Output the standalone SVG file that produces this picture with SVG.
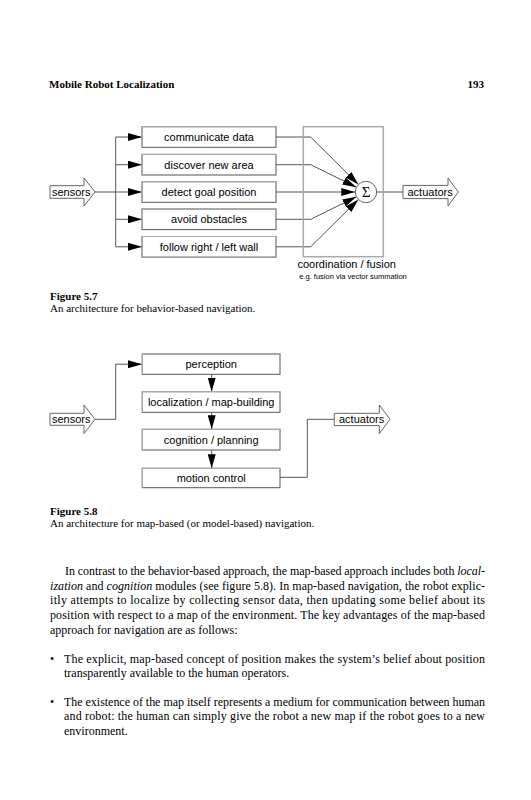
<svg xmlns="http://www.w3.org/2000/svg" width="531" height="800" viewBox="0 0 531 800">
<style>
.serif{font-family:"Liberation Serif","Times New Roman",serif;fill:#000}
.hd{font-size:11px;font-weight:bold}
.cap{font-size:11px}
.body{font-size:12px}
.it{font-style:italic}
.sans{font-family:"Liberation Sans",Arial,sans-serif;fill:#000;font-size:11px}
.box{fill:#fff;stroke:#555;stroke-width:1}
.boxhl{fill:none;stroke:#aaa;stroke-width:1.2}
.con{fill:none;stroke:#555;stroke-width:1}
.blk{fill:#fff;stroke:#666;stroke-width:1}
</style>
<defs>
<marker id="ah" markerUnits="userSpaceOnUse" markerWidth="14" markerHeight="8" refX="14" refY="4" orient="auto" viewBox="0 0 14 8">
<path d="M0,0 L14,4 L0,8 z" fill="#000"/>
</marker>
</defs>
<rect width="531" height="800" fill="#fff"/>

<g id="header">
<text class="serif hd" x="49" y="88">Mobile Robot Localization</text>
<text class="serif hd" x="484" y="88" text-anchor="end">193</text>
</g>

<!-- Figure 5.7 -->
<g id="fig57-connectors">
<polyline class="con" points="95,192 142,192" marker-end="url(#ah)"/>
<polyline class="con" points="115.7,137 115.7,246.8"/>
<polyline class="con" points="115.7,137 142,137" marker-end="url(#ah)"/>
<polyline class="con" points="115.7,164.7 142,164.7" marker-end="url(#ah)"/>
<polyline class="con" points="115.7,219.3 142,219.3" marker-end="url(#ah)"/>
<polyline class="con" points="115.7,246.8 142,246.8" marker-end="url(#ah)"/>
<polyline class="con" points="276,137 310.7,137 358.4,184.5" marker-end="url(#ah)"/>
<polyline class="con" points="276,164.7 310.7,164.7 356.4,187.2" marker-end="url(#ah)"/>
<polyline class="con" points="276,192 355.3,192" marker-end="url(#ah)"/>
<polyline class="con" points="276,219.3 310.7,219.3 356.4,196.8" marker-end="url(#ah)"/>
<polyline class="con" points="276,246.8 310.7,246.8 358.4,199.5" marker-end="url(#ah)"/>
<line class="con" x1="376.7" y1="192" x2="403" y2="192"/>
</g>

<g id="fig57-sensors">
<polygon class="blk" points="50,185.7 84,185.7 84,178 95,192 84,206 84,198.3 50,198.3"/>
<text class="sans" x="52" y="196">sensors</text>
</g>

<g id="fig57-b1"><rect class="box" x="142" y="126.7" width="134" height="20.6"/><polyline class="boxhl" points="142,147.3 142,126.7 276,126.7"/><text class="sans" x="209" y="141" text-anchor="middle">communicate data</text></g>
<g id="fig57-b2"><rect class="box" x="142" y="154.4" width="134" height="20.6"/><polyline class="boxhl" points="142,175 142,154.4 276,154.4"/><text class="sans" x="209" y="168.7" text-anchor="middle">discover new area</text></g>
<g id="fig57-b3"><rect class="box" x="142" y="181.7" width="134" height="20.6"/><polyline class="boxhl" points="142,202.3 142,181.7 276,181.7"/><text class="sans" x="209" y="196" text-anchor="middle">detect goal position</text></g>
<g id="fig57-b4"><rect class="box" x="142" y="209" width="134" height="20.6"/><polyline class="boxhl" points="142,229.6 142,209 276,209"/><text class="sans" x="209" y="223.3" text-anchor="middle">avoid obstacles</text></g>
<g id="fig57-b5"><rect class="box" x="142" y="236.5" width="134" height="20.6"/><polyline class="boxhl" points="142,257.1 142,236.5 276,236.5"/><text class="sans" x="209" y="250.8" text-anchor="middle">follow right / left wall</text></g>

<g id="fig57-coord">
<rect x="303.3" y="126.7" width="80" height="130" fill="none" stroke="#aaa" stroke-width="1.5"/>
<text class="sans" x="346.7" y="267.5" text-anchor="middle">coordination / fusion</text>
<text class="sans" x="353" y="279" text-anchor="middle" style="font-size:7.5px">e.g. fusion via vector summation</text>
</g>

<g id="fig57-sum">
<circle cx="366" cy="192" r="10.7" fill="#fff" stroke="#666" stroke-width="1"/>
<text class="serif" x="366" y="197" text-anchor="middle" style="font-size:15px">Σ</text>
</g>

<g id="fig57-actuators">
<polygon class="blk" points="403,185.4 448,185.4 448,178 458.3,192 448,206 448,198.6 403,198.6"/>
<text class="sans" x="407.5" y="196">actuators</text>
</g>

<g id="fig57-caption">
<text class="serif hd" x="50" y="300">Figure 5.7</text>
<text class="serif cap" x="50" y="311.5">An architecture for behavior-based navigation.</text>
</g>

<!-- Figure 5.8 -->
<g id="fig58-connectors">
<polyline class="con" points="95,419.3 115.7,419.3 115.7,364.2 142,364.2" marker-end="url(#ah)"/>
<line class="con" x1="211.7" y1="374.3" x2="211.7" y2="391.7" marker-end="url(#ah)"/>
<line class="con" x1="211.7" y1="412.3" x2="211.7" y2="429.3" marker-end="url(#ah)"/>
<line class="con" x1="211.7" y1="450" x2="211.7" y2="468.3" marker-end="url(#ah)"/>
<polyline class="con" points="280,477.3 307.3,477.3 307.3,419.3 334.3,419.3"/>
</g>

<g id="fig58-sensors">
<polygon class="blk" points="50,413.3 84,413.3 84,405 95,419.3 84,433.6 84,425.3 50,425.3"/>
<text class="sans" x="52" y="423.3">sensors</text>
</g>

<g id="fig58-perception"><rect class="box" x="142.3" y="354" width="137.7" height="20.3"/><polyline class="boxhl" points="142.3,374.3 142.3,354 280,354"/><text class="sans" x="211.2" y="368" text-anchor="middle">perception</text></g>
<g id="fig58-localization"><rect class="box" x="142.3" y="391.7" width="137.7" height="20.6"/><polyline class="boxhl" points="142.3,412.3 142.3,391.7 280,391.7"/><text class="sans" x="211.2" y="406" text-anchor="middle">localization / map-building</text></g>
<g id="fig58-cognition"><rect class="box" x="142.3" y="429.3" width="137.7" height="20.7"/><polyline class="boxhl" points="142.3,450 142.3,429.3 280,429.3"/><text class="sans" x="211.2" y="443.7" text-anchor="middle">cognition / planning</text></g>
<g id="fig58-motion"><rect class="box" x="142.3" y="468.3" width="137.7" height="19.4"/><polyline class="boxhl" points="142.3,487.7 142.3,468.3 280,468.3"/><text class="sans" x="211.2" y="482" text-anchor="middle">motion control</text></g>

<g id="fig58-actuators">
<polygon class="blk" points="334.3,413.3 379.3,413.3 379.3,405 390,419.3 379.3,433.6 379.3,425.6 334.3,425.6"/>
<text class="sans" x="339" y="423.3">actuators</text>
</g>

<g id="fig58-caption">
<text class="serif hd" x="50" y="515">Figure 5.8</text>
<text class="serif cap" x="50" y="526.5">An architecture for map-based (or model-based) navigation.</text>
</g>

<g id="body">
<text class="serif body" x="65" y="575" textLength="420" lengthAdjust="spacing">In contrast to the behavior-based approach, the map-based approach includes both <tspan class="it">local-</tspan></text>
<text class="serif body" x="50" y="589.7" textLength="435" lengthAdjust="spacing"><tspan class="it">ization</tspan> and <tspan class="it">cognition</tspan> modules (see figure 5.8). In map-based navigation, the robot explic-</text>
<text class="serif body" x="50" y="604.4" textLength="435" lengthAdjust="spacing">itly attempts to localize by collecting sensor data, then updating some belief about its</text>
<text class="serif body" x="50" y="619" textLength="435" lengthAdjust="spacing">position with respect to a map of the environment. The key advantages of the map-based</text>
<text class="serif body" x="50" y="633.7">approach for navigation are as follows:</text>
<text class="serif body" x="50" y="662.5">•</text>
<text class="serif body" x="64" y="662.5" textLength="421" lengthAdjust="spacing">The explicit, map-based concept of position makes the system’s belief about position</text>
<text class="serif body" x="64" y="677">transparently available to the human operators.</text>
<text class="serif body" x="50" y="705.5">•</text>
<text class="serif body" x="64" y="705.5" textLength="421" lengthAdjust="spacing">The existence of the map itself represents a medium for communication between human</text>
<text class="serif body" x="64" y="720" textLength="421" lengthAdjust="spacing">and robot: the human can simply give the robot a new map if the robot goes to a new</text>
<text class="serif body" x="64" y="734.5">environment.</text>
</g>
</svg>
